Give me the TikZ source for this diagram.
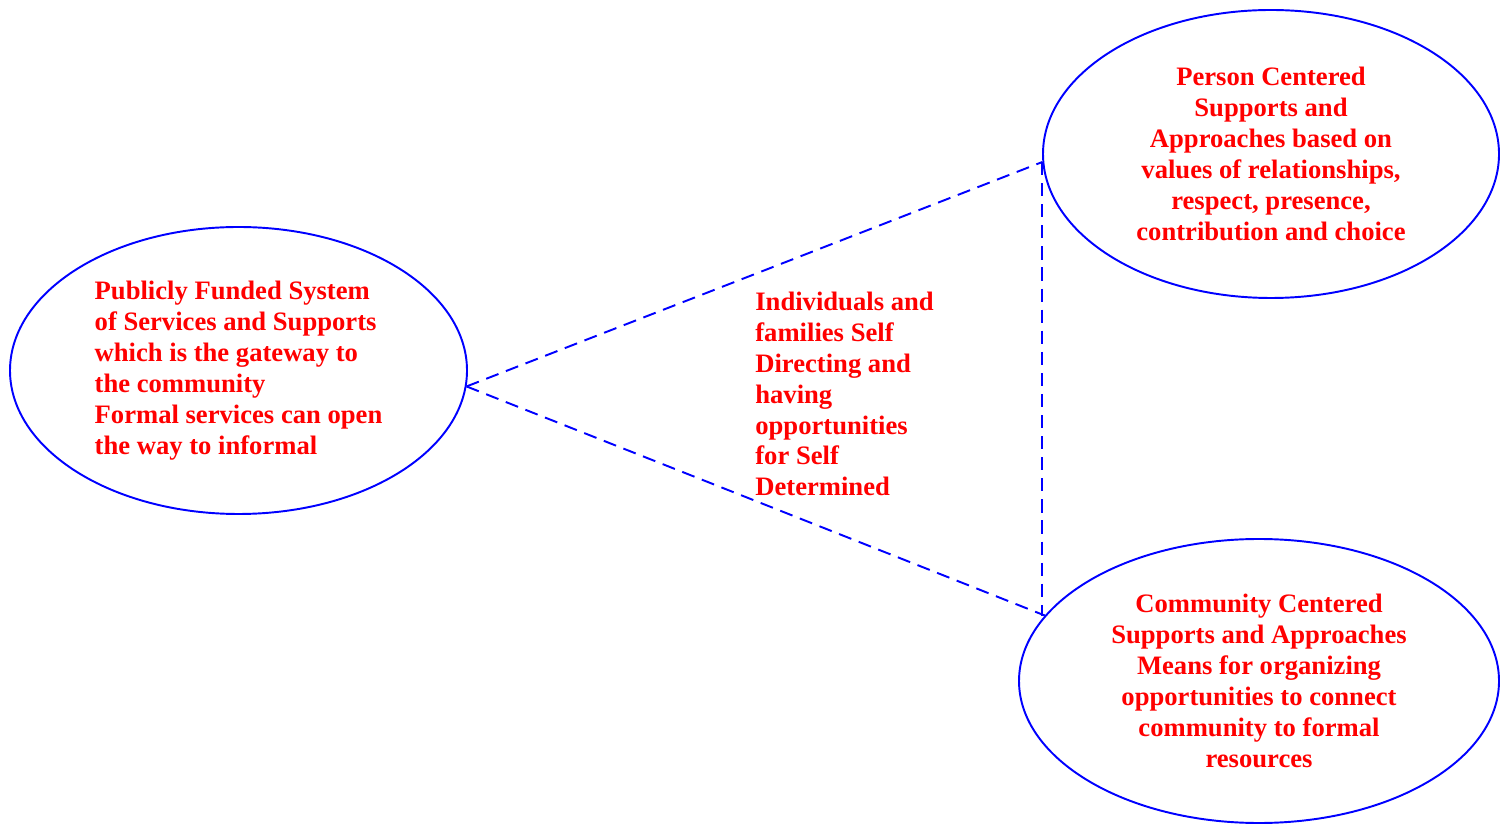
\documentclass[tikz,border=0pt]{standalone}
\usepackage{fontspec}
\setmainfont{Liberation Serif}
\usetikzlibrary{shapes.geometric}
\definecolor{ovalblue}{RGB}{0,0,255}
\definecolor{textred}{RGB}{255,0,0}

\begin{document}
\begin{tikzpicture}[
  oval/.style={ellipse, draw=ovalblue, line width=1.1pt, inner sep=0pt},
  words/.style={text=textred, font=\bfseries\fontsize{15.15}{17.6}\selectfont},
  link/.style={draw=ovalblue, line width=1.1pt, dash pattern=on 7.5pt off 4.5pt}]
% keep the page the size of the reference
\useasboundingbox (0,0) rectangle (30.14,16.48);
% Draw the three ovals with their labels
\node[oval, words, minimum width=9.14cm, minimum height=5.74cm, align=left] (pubsys) at (4.77,9.07)
  {Publicly Funded System\\of Services and Supports\\which is the gateway to\\the community\\Formal services can open\\the way to informal};
\node[oval, words, minimum width=9.12cm, minimum height=5.76cm, align=center] (pcs) at (25.42,13.4)
  {Person Centered\\Supports and\\Approaches based on\\values of relationships,\\respect, presence,\\contribution and choice};
\node[oval, words, minimum width=9.6cm, minimum height=5.68cm, align=center] (ccs) at (25.18,2.86)
  {Community Centered\\Supports and Approaches\\Means for organizing\\opportunities to connect\\community to formal\\resources};
% Label in the middle of the triangle
\node[words, align=left, anchor=west, inner sep=0pt] (selfdir) at (15.1,8.6)
  {Individuals and\\families Self\\Directing and\\having\\opportunities\\for Self\\Determined};
% Dashed triangle between the ovals
\coordinate (upper) at (pcs.182);
\coordinate (lower) at (ccs.163);
\draw[link] (pubsys.-4) -- (upper);
\draw[link] (pubsys.-4) -- (lower);
\draw[link] (upper) -- (upper |- lower);
\end{tikzpicture}
\end{document}
